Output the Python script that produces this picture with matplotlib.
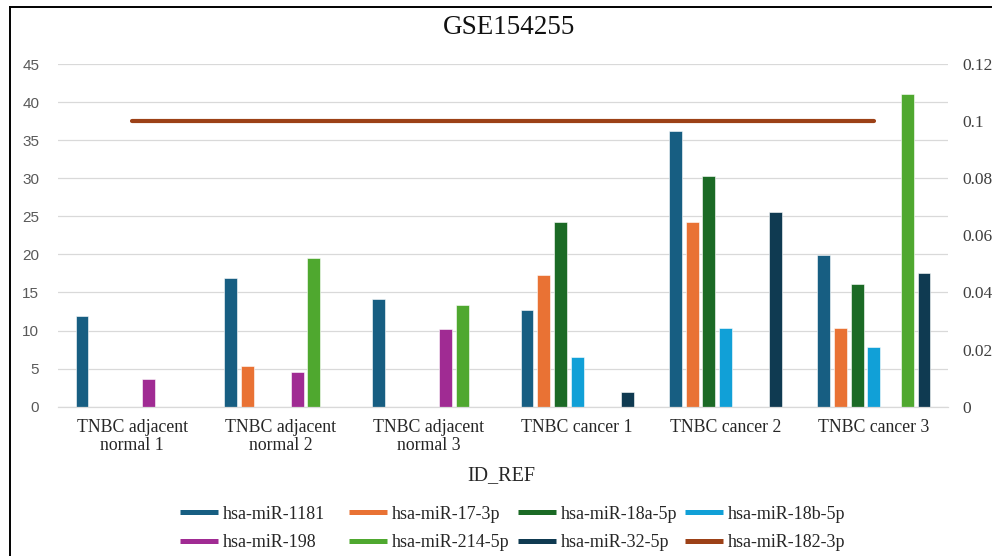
import numpy as np
import matplotlib
matplotlib.use("Agg")
import matplotlib.pyplot as plt
from matplotlib.lines import Line2D
from matplotlib.ticker import FuncFormatter

plt.rcParams["font.family"] = ["Liberation Serif", "DejaVu Serif"]

# -------------------------------------------------------------------
# Data
# -------------------------------------------------------------------
categories = [
    "TNBC adjacent\nnormal 1",
    "TNBC adjacent\nnormal 2",
    "TNBC adjacent\nnormal 3",
    "TNBC cancer 1",
    "TNBC cancer 2",
    "TNBC cancer 3",
]

mir_1181 = [11.9, 16.9, 14.2, 12.7, 36.2, 19.9]
mir_17_3p = [0, 5.3, 0, 17.3, 24.3, 10.3]
mir_18a_5p = [0, 0, 0, 24.3, 30.3, 16.1]
mir_18b_5p = [0, 0, 0, 6.5, 10.3, 7.8]
mir_198 = [3.6, 4.5, 10.2, 0, 0, 0]
mir_214_5p = [0, 19.5, 13.3, 0, 0, 41.0]
mir_32_5p = [0, 0, 0, 1.9, 25.6, 17.6]
mir_182_3p = [0.1, 0.1, 0.1, 0.1, 0.1, 0.1]  # secondary axis

left_ticks = [0, 5, 10, 15, 20, 25, 30, 35, 40, 45]
right_ticks = [0, 0.02, 0.04, 0.06, 0.08, 0.1, 0.12]

bar_series = [
    ("hsa-miR-1181", mir_1181, "#175E82"),
    ("hsa-miR-17-3p", mir_17_3p, "#E97234"),
    ("hsa-miR-18a-5p", mir_18a_5p, "#1B6A25"),
    ("hsa-miR-18b-5p", mir_18b_5p, "#11A0D7"),
    ("hsa-miR-198", mir_198, "#A02B93"),
    ("hsa-miR-214-5p", mir_214_5p, "#4FA82F"),
    ("hsa-miR-32-5p", mir_32_5p, "#0F3A51"),
]
line_name = "hsa-miR-182-3p"
line_color = "#9C4117"

# -------------------------------------------------------------------
# Figure layout (pixel based, 992 x 556)
# -------------------------------------------------------------------
W, H = 992, 556
fig = plt.figure(figsize=(W / 100, H / 100), dpi=100)
ax = fig.add_axes([58 / W, 1 - 406.7 / H, 890 / W, 342.7 / H])

x = np.arange(len(categories))
slot = 0.1125
bar_w = 0.086

for i, (name, vals, color) in enumerate(bar_series):
    ax.bar(x + (i - 3) * slot, vals, width=bar_w, color=color,
           edgecolor="white", linewidth=0.4, zorder=2)

ax.set_xlim(-0.5, len(categories) - 0.5)
ax.set_ylim(0, 45)
ax.set_yticks(left_ticks)
ax.set_xticks(x)
ax.set_xticklabels(categories, fontsize=12.8, color="#262626", linespacing=1.05)
ax.tick_params(axis="x", length=0, pad=9)
ax.tick_params(axis="y", length=0, pad=13.5, labelsize=11, labelcolor="#595959")
for lab in ax.get_yticklabels():
    lab.set_fontfamily("Liberation Sans")

ax.grid(axis="y", color="#d9d9d9", linewidth=0.9, zorder=0)
ax.set_axisbelow(True)
for side in ["left", "right", "top"]:
    ax.spines[side].set_visible(False)
ax.spines["bottom"].set_color("#d9d9d9")
ax.spines["bottom"].set_linewidth(0.9)

# secondary axis for the line series
ax2 = ax.twinx()
ax2.plot(x, mir_182_3p, color=line_color, linewidth=3,
         solid_capstyle="round", zorder=3)
ax2.set_ylim(0, 0.12)
ax2.set_yticks(right_ticks)
ax2.yaxis.set_major_formatter(FuncFormatter(lambda v, p: f"{v:g}"))
ax2.tick_params(axis="y", length=0, pad=10.5, labelsize=12.5, labelcolor="#404040")
for side in ["left", "right", "top", "bottom"]:
    ax2.spines[side].set_visible(False)

# titles
fig.text(509 / W, 1 - 28 / H, "GSE154255", ha="center", va="center",
         fontsize=19.5, color="#111111")
fig.text(501 / W, 1 - 476 / H, "ID_REF", ha="center", va="center",
         fontsize=14.5, color="#262626")

# -------------------------------------------------------------------
# Legend: 4 columns x 2 rows, each column placed on its own
# -------------------------------------------------------------------
entries = [(n, c) for n, _, c in bar_series] + [(line_name, line_color)]
col_x = [180, 349, 518, 685]
for col in range(4):
    handles = []
    labels = []
    for row in range(2):
        name, color = entries[row * 4 + col]
        handles.append(Line2D([], [], color=color, linewidth=3.6,
                              solid_capstyle="butt"))
        labels.append(name)
    fig.legend(handles, labels, loc="center left",
               bbox_to_anchor=(col_x[col] / W, 1 - 528.5 / H),
               frameon=False, fontsize=13, handlelength=2.1,
               handletextpad=0.28, labelspacing=0.65, borderpad=0,
               borderaxespad=0, labelcolor="#262626")

# chart border (cropped on the right and bottom)
fig.add_artist(Line2D([10 / W, 10 / W], [0, 1 - 7 / H], color="black",
                      linewidth=1.4, transform=fig.transFigure))
fig.add_artist(Line2D([10 / W, 1], [1 - 7 / H, 1 - 7 / H], color="black",
                      linewidth=1.4, transform=fig.transFigure))

fig.savefig("out.png", dpi=100)
